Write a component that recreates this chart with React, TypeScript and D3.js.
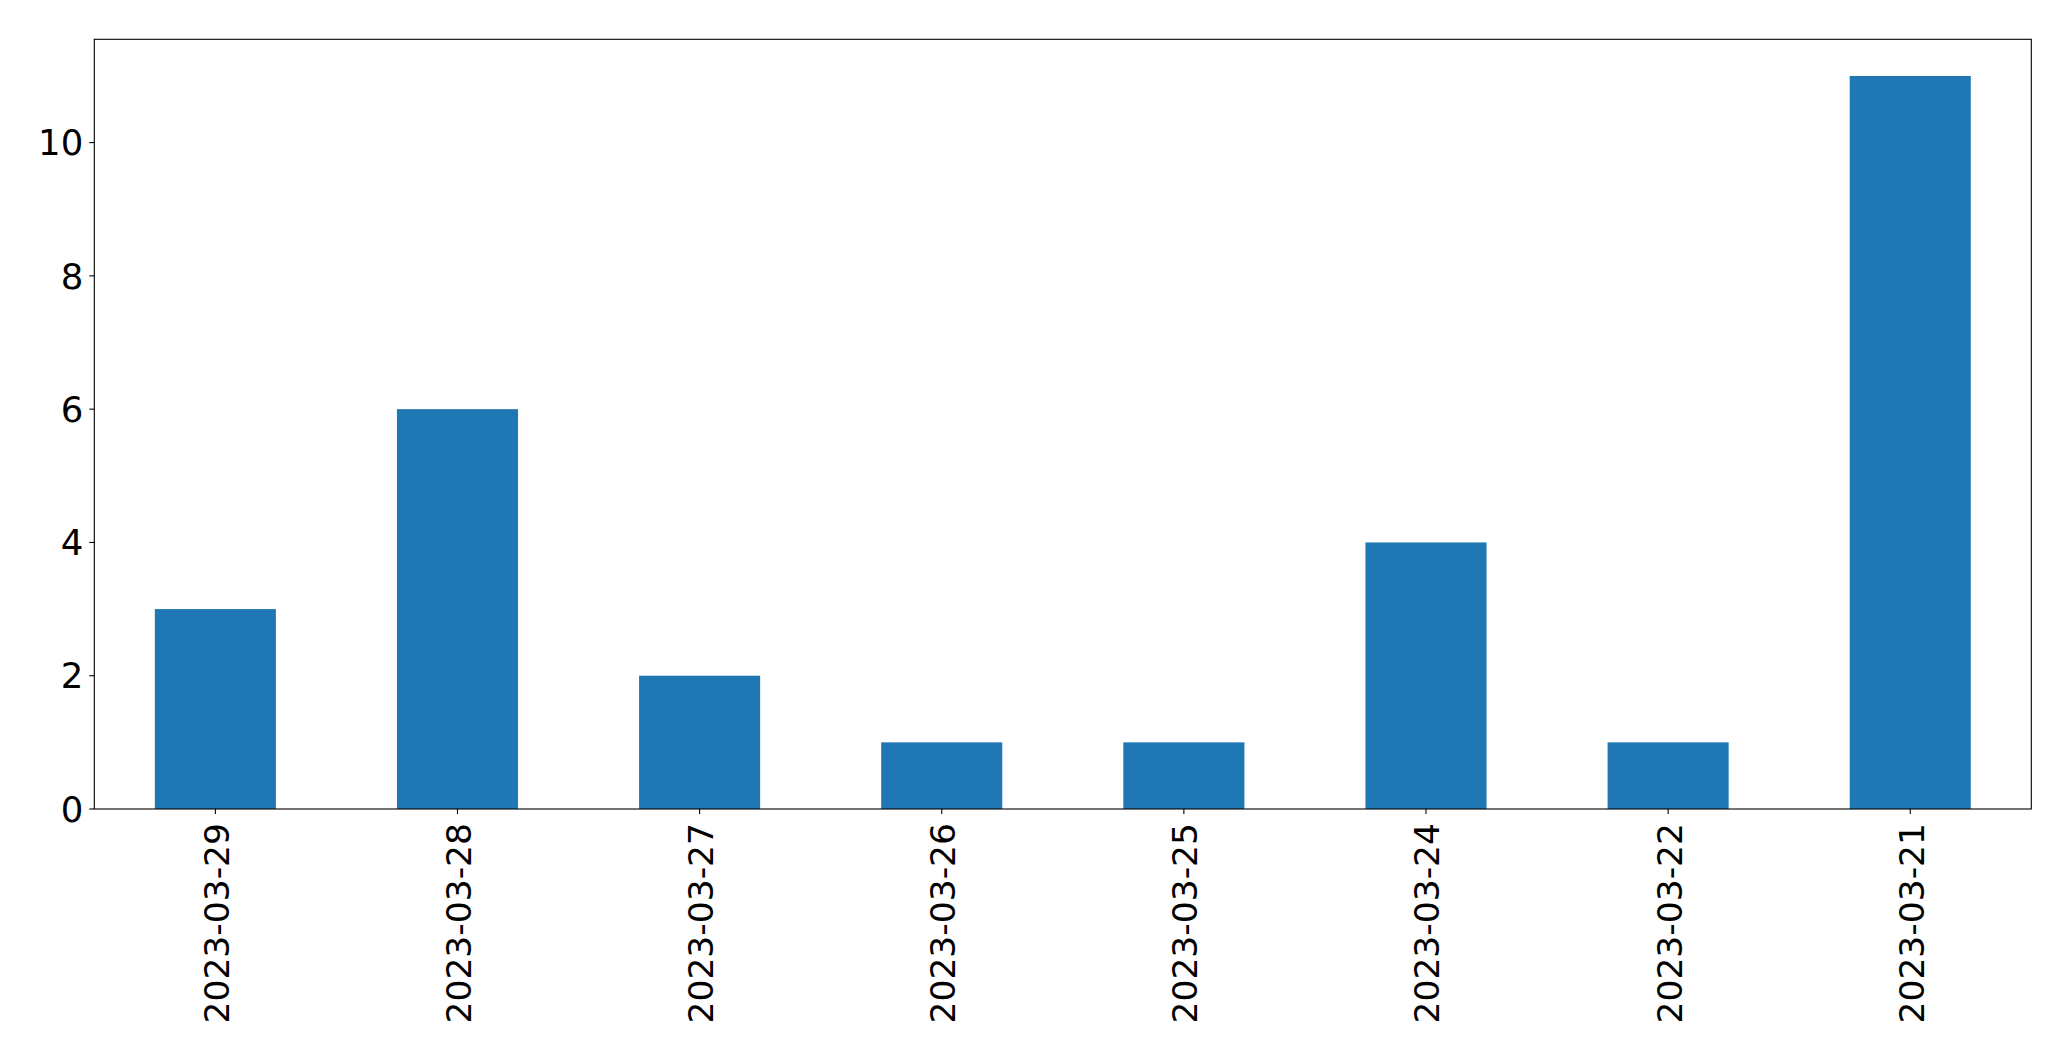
import React from "react";
import * as d3 from "d3";

const categories = ["2023-03-29", "2023-03-28", "2023-03-27", "2023-03-26", "2023-03-25", "2023-03-24", "2023-03-22", "2023-03-21"];
const values = [3, 6, 2, 1, 1, 4, 1, 11];
const yTicks = [0, 2, 4, 6, 8, 10];

const W = 2071;
const H = 1061;
const left = 94.3;
const right = 2031.3;
const top = 39.3;
const bottom = 809;
const FONT = "'DejaVu Sans', sans-serif";

export default function App() {
  const x = d3.scaleLinear().domain([-0.5, categories.length - 0.5]).range([left, right]);
  const yMax = d3.max(values)! * 1.05;
  const y = d3.scaleLinear().domain([0, yMax]).range([bottom, top]);
  const barW = x(0.25) - x(-0.25);

  return (
    <svg width={W} height={H} style={{ position: "fixed", left: 0, top: 0, background: "#fff" }}>
      <rect x={0} y={0} width={W} height={H} fill="#fff" />
      {values.map((v, i) => (
        <rect key={i} x={x(i) - barW / 2} y={y(v)} width={barW} height={y(0) - y(v)} fill="#1f77b4" />
      ))}
      <rect x={left} y={top} width={right - left} height={bottom - top} fill="none" stroke="#000" strokeWidth={1.1} />
      {yTicks.map((t) => (
        <g key={t}>
          <line x1={left - 5} x2={left} y1={y(t)} y2={y(t)} stroke="#000" strokeWidth={1.1} />
          <text x={left - 11} y={y(t)} dy="0.36em" textAnchor="end" fontFamily={FONT} fontSize={35.5} fill="#000">
            {t}
          </text>
        </g>
      ))}
      {categories.map((c, i) => (
        <g key={c}>
          <line x1={x(i)} x2={x(i)} y1={bottom} y2={bottom + 5} stroke="#000" strokeWidth={1.1} />
          <text
            transform={`translate(${x(i) + 13.5},${bottom + 14}) rotate(-90)`}
            textAnchor="end"
            fontFamily={FONT}
            fontSize={34.5}
            fill="#000"
          >
            {c}
          </text>
        </g>
      ))}
    </svg>
  );
}
